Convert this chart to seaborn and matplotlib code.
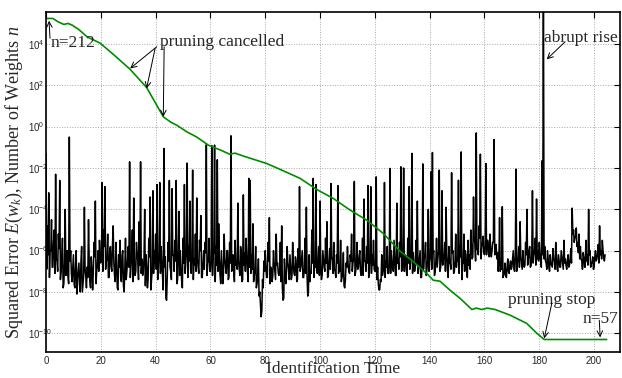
import numpy as np
import matplotlib
matplotlib.use("Agg")
import matplotlib.pyplot as plt
import seaborn as sns
from matplotlib.ticker import FixedLocator, NullLocator

# Squared error E(w_k): log10 values, one every 0.5 time unit
error_dt = 0.5
error_log = [
    -1.3, -4.8, -3.2, -6.0, -4.5, -6.8, -5.0, -2.3, -6.5, -5.2,       # 0
    -2.6, -7.0, -5.4, -7.6, -4.0, -6.3, -7.2, -0.5, -6.0, -7.5,       # 5
    -6.2, -7.8, -6.0, -7.4, -6.6, -8.0, -5.8, -7.6, -3.9, -7.2,       # 10
    -6.8, -4.5, -7.5, -6.3, -7.9, -5.6, -3.6, -7.0, -6.0, -5.5,       # 15
    -6.6, -2.7, -5.0, -2.9, -6.5, -5.2, -7.3, -5.8, -7.0, -4.8,       # 20
    -7.2, -5.6, -7.8, -6.2, -5.5, -7.5, -6.0, -8.0, -5.4, -7.0,       # 25
    -5.8, -1.7, -6.8, -5.0, -3.45, -7.2, -5.6, -6.5, -4.6, -1.7,      # 30
    -6.4, -7.0, -4.0, -6.2, -7.8, -5.4, -3.4, -7.4, -3.1, -6.0,       # 35
    -5.2, -2.8, -6.8, -2.7, -5.8, -7.2, -1.05, -6.3, -8.4, -5.6,      # 40
    -2.6, -7.0, -3.0, -6.2, -5.5, -2.6, -7.4, -4.1, -6.0, -7.5,       # 45
    -5.4, -2.8, -6.6, -1.76, -5.8, -3.6, -7.1, -2.1, -6.4, -5.2,      # 50
    -3.45, -6.8, -5.5, -4.3, -7.3, -6.0, -5.6, -0.87, -6.6, -5.4,     # 55
    -7.0, -0.92, -6.2, -0.89, -5.8, -1.6, -4.7, -7.2, -6.0, -7.6,     # 60
    -5.2, -6.8, -6.0, -7.4, -5.6, -0.44, -6.3, -7.0, -5.5, -6.6,      # 65
    -3.7, -6.9, -5.8, -7.5, -3.3, -6.1, -5.4, -7.0, -2.5, -2.6,       # 70
    -6.2, -4.7, -7.2, -5.8, -7.6, -6.4, -8.0, -9.2, -7.4, -6.5,       # 75
    -6.0, -7.3, -5.6, -4.4, -6.8, -7.5, -6.0, -7.0, -5.2, -6.6,       # 80
    -7.2, -5.6, -4.8, -8.4, -6.4, -7.6, -5.8, -6.9, -6.2, -7.4,       # 85
    -5.6, -7.1, -6.3, -7.5, -5.9, -2.9, -6.8, -6.0, -7.3, -5.4,       # 90
    -3.9, -8.2, -6.2, -7.0, -5.0, -2.5, -6.6, -2.8, -7.1, -5.8,       # 95
    -3.6, -7.4, -6.0, -6.8, -5.4, -4.6, -7.2, -5.9, -2.75, -6.5,      # 100
    -5.6, -7.0, -6.2, -2.85, -6.8, -5.5, -7.3, -6.1, -7.8, -6.6,      # 105
    -5.8, -7.0, -6.2, -5.2, -6.6, -2.65, -7.0, -5.6, -6.8, -6.0,      # 110
    -7.2, -5.4, -3.5, -6.5, -5.8, -2.85, -6.9, -2.9, -6.2, -5.5,      # 115
    -7.0, -2.43, -6.8, -7.9, -7.4, -6.2, -7.0, -2.7, -6.5, -5.8,      # 120
    -7.1, -2.02, -6.0, -6.8, -5.5, -7.2, -3.7, -6.4, -5.6, -1.94,     # 125
    -6.9, -2.0, -6.2, -7.0, -5.4, -2.9, -6.6, -1.29, -6.1, -7.0,      # 130
    -5.5, -3.6, -6.8, -6.0, -7.3, -1.8, -6.2, -5.6, -6.9, -4.0,       # 135
    -6.5, -2.18, -1.25, -6.0, -7.0, -5.4, -6.4, -2.1, -6.8, -3.1,     # 140
    -6.2, -5.6, -3.9, -6.9, -5.8, -6.6, -2.23, -6.0, -7.0, -5.2,      # 145
    -6.4, -2.59, -5.8, -1.22, -6.6, -5.2, -6.0, -7.0, -5.5, -6.2,     # 150
    -5.0, -6.4, -3.4, -5.6, -0.3, -6.0, -4.8, -1.33, -5.8, -5.3,      # 155
    -6.2, -1.78, -5.5, -6.0, -5.2, -6.3, -5.6, -0.62, -5.8, -6.4,     # 160
    -7.0, -4.4, -6.8, -3.87, -7.2, -6.6, -7.3, -6.4, -7.1, -6.5,      # 165
    -6.8, -6.0, -7.0, -2.05, -6.4, -5.8, -4.6, -6.6, -6.0, -6.8,      # 170
    -5.6, -4.0, -6.4, -5.8, -6.7, -3.1, -6.2, -5.4, -3.5, -6.0,       # 175
    -5.6, -6.4, -1.65, 7.0, -5.8, -6.6, -6.0, -6.8, -6.2, -6.7,       # 180
    -5.9, -6.5, -5.6, -6.9, -6.2, -6.8, -6.0, -6.6, -5.5, -6.4,       # 185
    -6.9, -6.2, -6.7, -5.9, -3.94, -5.0, -5.4, -4.9, -5.6, -5.2,      # 190
    -5.8, -6.5, -6.1, -6.8, -5.5, -6.2, -4.0, -6.0, -6.6, -6.3,       # 195
    -6.8, -6.0, -6.4, -5.7, -4.8, -6.0, -5.5, -6.3, -6.2,             # 200
]

# samples in between (t + 0.25): the dense lower band of the same trace
error_mid_log = [
    -6.9, -6.2, -7.3, -6.0, -6.8, -5.6, -7.1, -6.4, -7.0, -5.9,       # 0
    -7.4, -6.3, -7.8, -6.6, -7.2, -6.0, -7.6, -6.5, -7.1, -6.8,       # 5
    -7.6, -6.8, -8.1, -7.0, -7.7, -6.5, -8.0, -7.2, -6.9, -7.8,       # 10
    -7.3, -6.5, -7.8, -6.9, -7.1, -6.3, -7.6, -6.7, -7.0, -6.2,       # 15
    -6.2, -7.0, -5.8, -6.9, -6.4, -7.3, -6.0, -6.8, -5.7, -6.6,       # 20
    -7.5, -6.6, -7.9, -6.8, -7.3, -6.2, -7.7, -6.9, -7.4, -6.5,       # 25
    -6.8, -7.3, -6.2, -7.5, -6.6, -7.0, -6.1, -7.4, -6.7, -7.1,       # 30
    -7.2, -6.4, -7.7, -6.8, -7.4, -6.3, -7.9, -6.9, -7.1, -6.6,       # 35
    -6.9, -7.4, -6.3, -7.1, -6.6, -7.9, -6.8, -8.3, -7.2, -6.5,       # 40
    -6.8, -7.4, -6.2, -7.0, -6.5, -7.6, -6.1, -7.2, -6.7, -7.8,       # 45
    -6.6, -7.1, -6.0, -7.3, -6.5, -6.9, -6.2, -7.4, -6.7, -7.0,       # 50
    -6.4, -7.1, -6.0, -7.3, -6.6, -6.9, -6.1, -7.2, -6.5, -7.0,       # 55
    -6.5, -7.2, -6.1, -7.5, -6.7, -7.0, -6.3, -7.6, -6.8, -7.1,       # 60
    -6.4, -7.1, -6.0, -7.3, -6.6, -7.0, -6.2, -7.5, -6.7, -6.9,       # 65
    -6.5, -7.2, -6.1, -7.4, -6.7, -7.0, -6.3, -7.5, -6.8, -7.1,       # 70
    -6.9, -7.5, -7.0, -7.8, -7.2, -8.2, -8.6, -8.9, -7.8, -7.0,       # 75
    -6.8, -7.3, -6.5, -7.6, -6.9, -7.2, -6.6, -7.4, -6.7, -7.1,       # 80
    -6.9, -7.5, -7.8, -8.3, -7.2, -7.0, -6.6, -7.4, -6.8, -7.2,       # 85
    -6.7, -7.2, -6.5, -7.4, -6.8, -7.0, -6.4, -7.3, -6.9, -7.1,       # 90
    -7.2, -8.0, -7.5, -7.1, -6.6, -7.3, -6.8, -7.0, -6.5, -7.2,       # 95
    -6.8, -7.2, -6.4, -7.0, -6.6, -7.3, -6.5, -6.9, -6.3, -7.1,       # 100
    -6.9, -7.3, -6.6, -7.1, -7.0, -7.5, -7.2, -7.7, -7.4, -6.8,       # 105
    -6.7, -7.1, -6.5, -7.0, -6.4, -7.2, -6.6, -6.9, -6.3, -7.0,       # 110
    -6.8, -7.2, -6.5, -7.0, -6.6, -7.3, -6.4, -7.1, -6.7, -6.9,       # 115
    -7.0, -7.4, -7.6, -7.9, -7.5, -7.2, -6.9, -7.3, -6.8, -7.1,       # 120
    -6.7, -7.1, -6.5, -7.0, -6.4, -7.2, -6.6, -6.9, -6.3, -7.0,       # 125
    -6.5, -7.0, -6.3, -7.2, -6.6, -6.9, -6.2, -7.1, -6.7, -6.8,       # 130
    -6.6, -7.1, -6.4, -7.3, -6.7, -6.9, -6.3, -7.2, -6.5, -7.0,       # 135
    -6.3, -6.9, -6.1, -7.2, -6.5, -6.8, -6.0, -7.0, -6.4, -6.7,       # 140
    -6.4, -7.0, -6.2, -7.3, -6.6, -6.9, -6.1, -7.1, -6.5, -6.8,       # 145
    -6.5, -7.1, -6.3, -7.4, -6.6, -7.0, -6.2, -7.3, -6.7, -6.9,       # 150
    -5.8, -6.3, -5.5, -6.5, -5.9, -6.2, -5.4, -6.4, -5.7, -6.1,       # 155
    -5.8, -6.2, -5.5, -6.3, -5.9, -6.0, -5.6, -6.2, -5.7, -6.1,       # 160
    -6.6, -7.0, -6.9, -7.3, -7.1, -7.2, -6.8, -7.0, -6.7, -6.9,       # 165
    -6.4, -6.9, -6.2, -7.0, -6.5, -6.8, -6.3, -6.9, -6.6, -6.7,       # 170
    -6.2, -6.7, -6.0, -6.8, -6.3, -6.6, -6.1, -6.7, -6.4, -6.5,       # 175
    -6.3, -6.8, -6.2, -6.4, -6.5, -6.9, -6.4, -7.0, -6.6, -6.8,       # 180
    -6.4, -6.9, -6.2, -7.0, -6.5, -6.8, -6.3, -6.9, -6.6, -6.7,       # 185
    -6.5, -6.8, -6.4, -6.6, -5.2, -5.6, -5.3, -5.8, -6.1, -6.4,       # 190
    -6.4, -6.9, -6.3, -6.8, -6.5, -6.7, -6.2, -6.8, -6.6, -6.9,       # 195
    -6.3, -6.5, -6.1, -6.6, -6.2, -6.4, -6.0, -6.5,                   # 200
]

# Number of weights n (212 -> 57), as drawn on the same log axis: breakpoints
weights_t = [0, 2.5, 4.4, 6.5, 8.0, 9.5, 12, 15, 19.7, 25, 30.6, 36.7, 42.8,
             45.3, 48, 51.4, 55, 59.2, 64, 67, 69, 72, 80.5, 86, 92.7, 98.8,
             104.8, 111, 117, 123.1, 129.2, 132.8, 138.9, 141.3, 143.8, 147.4,
             151.1, 155.4, 157, 159, 161, 163.9, 169.3, 175.4, 179.1, 181.8, 204.6]
weights_log = [5.24, 5.24, 5.08, 4.95, 5.0, 4.92, 4.7, 4.35, 4.05, 3.45, 2.79, 1.90, 0.48,
               0.24, 0.05, -0.25, -0.5, -0.89, -1.15, -1.33, -1.28, -1.42, -1.78, -2.1, -2.50, -3.04,
               -3.47, -4.04, -4.52, -5.17, -6.03, -6.40, -7.10, -7.43, -7.48, -7.91,
               -8.31, -8.85, -8.78, -8.85, -8.78, -8.85, -9.12, -9.52, -10.0, -10.30, -10.30]

xticks = [0, 20, 40, 60, 80, 100, 120, 140, 160, 180, 200]
ytick_exp = [-10, -8, -6, -4, -2, 0, 2, 4]

sns.set_style("whitegrid")
plt.rcParams['font.family'] = ['Liberation Serif', 'DejaVu Serif']
plt.rcParams['mathtext.fontset'] = 'custom'
plt.rcParams['mathtext.rm'] = 'Liberation Sans'
plt.rcParams['mathtext.it'] = 'Liberation Serif:italic'
plt.rcParams['mathtext.bf'] = 'Liberation Serif:bold'

# interleave main samples and in-between samples into one trace
n_main = len(error_log)
err_t = np.empty(2 * n_main - 1)
err_l = np.empty(2 * n_main - 1)
err_t[0::2] = np.arange(n_main) * error_dt
err_t[1::2] = np.arange(n_main - 1) * error_dt + error_dt / 2
err_l[0::2] = error_log
err_l[1::2] = error_mid_log
err_v = 10.0 ** err_l
w_v = 10.0 ** np.array(weights_log)

fig = plt.figure(figsize=(6.22, 3.78), dpi=100)
ax = fig.add_axes([0.074, 0.068, 0.923, 0.899])

sns.lineplot(x=err_t, y=err_v, ax=ax, color='black', lw=1.1, estimator=None, sort=False)
sns.lineplot(x=weights_t, y=w_v, ax=ax, color='#008c00', lw=1.2, estimator=None, sort=False)

ax.set_yscale('log')
ax.set_xlim(0, 209.5)
ax.set_ylim(10 ** -10.92, 10 ** 5.53)

ax.xaxis.set_major_locator(FixedLocator(xticks))
ax.yaxis.set_major_locator(FixedLocator([10.0 ** e for e in ytick_exp]))
ax.yaxis.set_minor_locator(NullLocator())
ax.set_xticklabels([str(v) for v in xticks], family='Liberation Sans', fontsize=7)
ax.set_yticklabels([r'$10^{%d}$' % e for e in ytick_exp], fontsize=7, ha='left')

ax.tick_params(axis='both', which='major', direction='in', length=4, width=0.8,
               top=True, right=True, color='black')
ax.tick_params(axis='y', pad=13)
ax.tick_params(axis='x', pad=2.5)

ax.grid(True, which='major', linestyle=':', color='#a8a8a8', lw=0.7)
for s in ax.spines.values():
    s.set_color('black')
    s.set_linewidth(1.2)

ax.set_xlabel('Identification Time', fontsize=12.5)
ax.xaxis.set_label_coords(0.5, -0.026)
ax.set_ylabel(r'Squared Error $E$($w_k$), Number of Weights $n$', fontsize=13)
ax.yaxis.set_label_coords(-0.036, 0.5)

arrow = dict(arrowstyle='->', lw=0.7, color='black', shrinkA=0, shrinkB=0)
fs = 12.5

# n=212
ax.text(1.7, 10 ** 4.05, 'n=212', fontsize=fs, va='center', ha='left')
ax.annotate('', xy=(1.1, 10 ** 5.13), xytext=(1.46, 10 ** 4.28), arrowprops=arrow)

# pruning cancelled
ax.text(41.6, 10 ** 4.1, 'pruning cancelled', fontsize=fs, va='center', ha='left')
ax.annotate('', xy=(30.7, 10 ** 2.82), xytext=(40.4, 10 ** 3.87), arrowprops=arrow)
ax.annotate('', xy=(36.7, 10 ** 1.85), xytext=(39.8, 10 ** 3.79), arrowprops=arrow)
ax.annotate('', xy=(42.8, 10 ** 0.48), xytext=(43.1, 10 ** 3.87), arrowprops=arrow)

# abrupt rise
ax.text(181.9, 10 ** 4.31, 'abrupt rise', fontsize=fs, va='center', ha='left')
ax.annotate('', xy=(182.7, 10 ** 3.26), xytext=(189.4, 10 ** 4.11), arrowprops=arrow)

# pruning stop
ax.text(168.7, 10 ** -8.4, 'pruning stop', fontsize=fs, va='center', ha='left')
ax.annotate('', xy=(181.8, 10 ** -10.25), xytext=(184.6, 10 ** -8.53), arrowprops=arrow)

# n=57
ax.text(195.9, 10 ** -9.32, 'n=57', fontsize=fs, va='center', ha='left')
ax.annotate('', xy=(202.2, 10 ** -10.2), xytext=(201.9, 10 ** -9.37), arrowprops=arrow)

fig.savefig('out.png', dpi=100)
